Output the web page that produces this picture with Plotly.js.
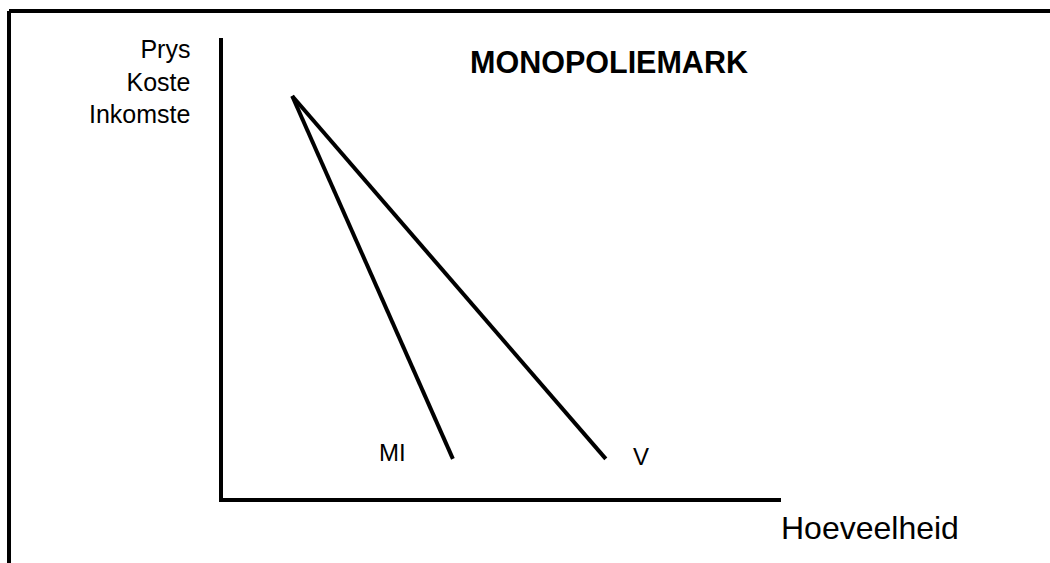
<!DOCTYPE html>
<html>
<head>
<meta charset="utf-8">
<script src="https://cdn.plot.ly/plotly-3.0.1.min.js"></script>
<style>
  html, body { margin: 0; padding: 0; background: #ffffff; }
  #chart { width: 1050px; height: 563px; }
</style>
</head>
<body>
<div id="chart"></div>
<script>
// Data (chart units: quantity on x, price on y, both 0..10)
const miX = [1.24, 4.12];          // marginal revenue (MI)
const miY = [8.74, 0.85];
const vX = [1.24, 6.86];           // demand (V)
const vY = [8.74, 0.85];
const curveLabels = ['MI', 'V'];
const labelX = [3.03, 7.49];
const labelY = [1.0, 0.91];
const chartTitle = 'MONOPOLIEMARK';
const yAxisLabel = ['Prys', 'Koste', 'Inkomste'];
const xAxisLabel = 'Hoeveelheid';

const FONT = '"Liberation Sans", Arial, Helvetica, sans-serif';

const traces = [
  { x: miX, y: miY, name: curveLabels[0], mode: 'lines',
    line: { color: '#000000', width: 4 }, hoverinfo: 'skip' },
  { x: vX, y: vY, name: curveLabels[1], mode: 'lines',
    line: { color: '#000000', width: 4 }, hoverinfo: 'skip' }
];

const annotations = curveLabels.map((t, i) => ({
  x: labelX[i], y: labelY[i], xref: 'x', yref: 'y', text: t, showarrow: false,
  xanchor: 'center', yanchor: 'middle', font: { family: FONT, size: 24, color: '#000000' }
}));
annotations.push({
  xref: 'paper', yref: 'paper', x: -0.0555, y: 0.9065, text: yAxisLabel.join('<br>'),
  showarrow: false, xanchor: 'right', yanchor: 'middle', align: 'right',
  font: { family: FONT, size: 25, color: '#000000' }
});
annotations.push({
  xref: 'paper', yref: 'paper', x: 1.1595, y: -0.0663, text: xAxisLabel,
  showarrow: false, xanchor: 'center', yanchor: 'middle',
  font: { family: FONT, size: 32, color: '#000000' }
});

const layout = {
  width: 1050, height: 563,
  margin: { l: 223, r: 269, t: 38, b: 65, pad: 0 },
  paper_bgcolor: '#ffffff', plot_bgcolor: '#ffffff',
  showlegend: false,
  title: {
    text: '<b>' + chartTitle + '</b>',
    font: { family: FONT, size: 30.5, color: '#000000' },
    xref: 'container', yref: 'container',
    x: 0.58, xanchor: 'center', y: 0.8899, yanchor: 'middle'
  },
  xaxis: { range: [0, 10], showline: true, linewidth: 4, linecolor: '#000000',
           showgrid: false, zeroline: false, showticklabels: false, ticks: '', fixedrange: true },
  yaxis: { range: [0, 10], showline: true, linewidth: 4, linecolor: '#000000',
           showgrid: false, zeroline: false, showticklabels: false, ticks: '', fixedrange: true },
  shapes: [
    { type: 'line', xref: 'paper', yref: 'paper', x0: -0.3835, x1: -0.3835, y0: 1.0587, y1: -0.2217,
      line: { color: '#000000', width: 4 } },
    { type: 'line', xref: 'paper', yref: 'paper', x0: -0.3835, x1: 1.5717, y0: 1.0587, y1: 1.0587,
      line: { color: '#000000', width: 4 } }
  ],
  annotations: annotations
};

Plotly.newPlot('chart', traces, layout, { displayModeBar: false, staticPlot: true });
</script>
</body>
</html>
